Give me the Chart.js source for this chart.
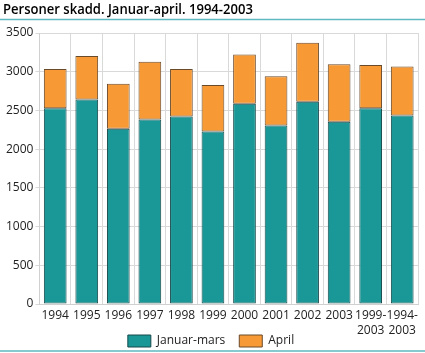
<!DOCTYPE html>
<html>
<head>
<meta charset="utf-8">
<script src="https://cdn.jsdelivr.net/npm/chart.js@4/dist/chart.umd.min.js"></script>
<style>
  html, body { margin: 0; padding: 0; background: #fff; }
  #wrap { width: 425px; height: 353px; position: relative; }
</style>
</head>
<body>
<div id="wrap"><canvas id="chart"></canvas></div>
<script>
// Data
const categories = ['1994', '1995', '1996', '1997', '1998', '1999', '2000', '2001', '2002', '2003', ['1999-', '2003'], ['1994-', '2003']];
const januarMars = [2529, 2641, 2263, 2383, 2422, 2229, 2585, 2306, 2611, 2353, 2529, 2435];
const april = [507, 562, 580, 747, 614, 601, 636, 635, 764, 743, 558, 631];
const seriesNames = ['Januar-mars', 'April'];
const yTicks = [0, 500, 1000, 1500, 2000, 2500, 3000, 3500];

const titleText = 'Personer skadd. Januar-april. 1994-2003';
const FONT = "'Open Sans', 'DejaVu Sans', sans-serif";
const LEGEND_GAP = 14;

// Title and the two teal rules
const framePlugin = {
    id: 'frame',
    afterLayout(chart) {
        // pull legend row up so the item gap doesn't push it down
        chart.legend.top -= LEGEND_GAP;
        chart.legend.bottom -= LEGEND_GAP;
    },
    afterDraw(chart) {
        const ctx = chart.ctx;
        ctx.save();
        ctx.fillStyle = '#000';
        ctx.font = `600 14.5px ${FONT}`;
        ctx.textBaseline = 'middle';
        ctx.translate(3, 10);
        ctx.scale(0.9, 1);
        ctx.fillText(titleText, 0, 0);
        ctx.restore();

        ctx.save();
        ctx.strokeStyle = '#5fb9c0';
        ctx.lineWidth = 1.5;
        ctx.beginPath();
        ctx.moveTo(0, 19.5);
        ctx.lineTo(chart.width, 19.5);
        ctx.moveTo(0, 351);
        ctx.lineTo(chart.width, 351);
        ctx.stroke();
        ctx.restore();
    }
};

const ctx = document.getElementById('chart').getContext('2d');
new Chart(ctx, {
    type: 'bar',
    data: {
        labels: categories,
        datasets: [
            {
                label: seriesNames[0],
                data: januarMars,
                backgroundColor: '#1a9797',
                borderColor: '#17494a',
                borderWidth: 1,
                borderSkipped: false,
                barPercentage: 0.72,
                categoryPercentage: 1
            },
            {
                label: seriesNames[1],
                data: april,
                backgroundColor: '#f79a35',
                borderColor: '#6b4a2a',
                borderWidth: 1,
                borderSkipped: false,
                barPercentage: 0.72,
                categoryPercentage: 1
            }
        ]
    },
    options: {
        responsive: true,
        maintainAspectRatio: false,
        animation: false,
        layout: { padding: { top: 33, right: 7, left: 4, bottom: -4 - LEGEND_GAP } },
        scales: {
            x: {
                stacked: true,
                grid: { color: '#d9d9d9', offset: true, drawTicks: false },
                border: { color: '#d0d0d0' },
                afterFit(axis) { axis.height = 31; },
                ticks: {
                    color: '#222',
                    font: { family: FONT, size: 12, lineHeight: 1.25 },
                    padding: 4,
                    maxRotation: 0,
                    autoSkip: false
                }
            },
            y: {
                stacked: true,
                min: 0,
                max: 3500,
                afterBuildTicks(axis) {
                    axis.ticks = yTicks.map(v => ({ value: v }));
                },
                grid: { color: '#d9d9d9', drawTicks: true, tickLength: 4 },
                border: { color: '#d0d0d0' },
                ticks: {
                    color: '#222',
                    font: { family: FONT, size: 12 },
                    padding: 2,
                    callback: v => String(v)
                }
            }
        },
        plugins: {
            title: { display: false },
            tooltip: { enabled: false },
            legend: {
                position: 'bottom',
                labels: {
                    color: '#222',
                    font: { family: FONT, size: 12 },
                    boxWidth: 23,
                    boxHeight: 12,
                    padding: LEGEND_GAP
                }
            }
        }
    },
    plugins: [framePlugin]
});
</script>
</body>
</html>
